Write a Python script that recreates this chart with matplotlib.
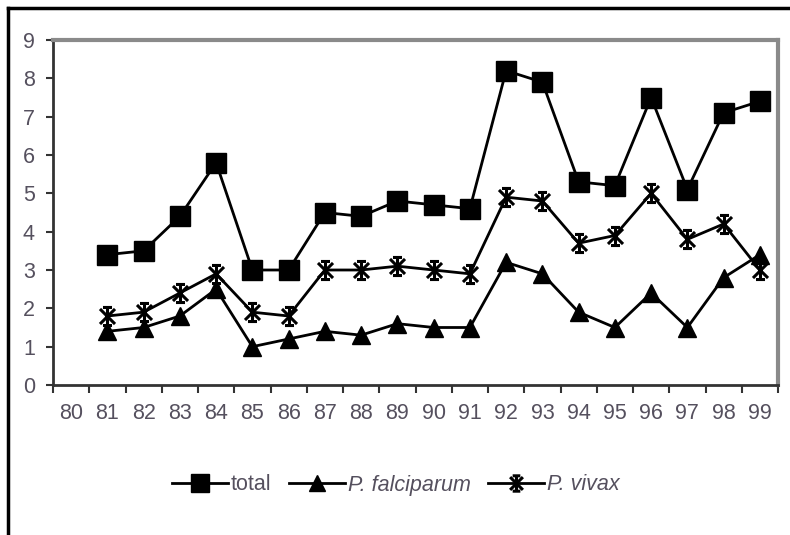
import matplotlib
matplotlib.use("Agg")
import matplotlib.pyplot as plt
from matplotlib.path import Path
from matplotlib.lines import Line2D
import numpy as np

years = ["80", "81", "82", "83", "84", "85", "86", "87", "88", "89",
         "90", "91", "92", "93", "94", "95", "96", "97", "98", "99"]
total = [None, 3.4, 3.5, 4.4, 5.8, 3.0, 3.0, 4.5, 4.4, 4.8, 4.7, 4.6,
         8.2, 7.9, 5.3, 5.2, 7.5, 5.1, 7.1, 7.4]
falciparum = [None, 1.4, 1.5, 1.8, 2.5, 1.0, 1.2, 1.4, 1.3, 1.6, 1.5, 1.5,
              3.2, 2.9, 1.9, 1.5, 2.4, 1.5, 2.8, 3.4]
vivax = [None, 1.8, 1.9, 2.4, 2.9, 1.9, 1.8, 3.0, 3.0, 3.1, 3.0, 2.9,
         4.9, 4.8, 3.7, 3.9, 5.0, 3.8, 4.2, 3.0]
labels = ["total", "P. falciparum", "P. vivax"]
yticks = list(range(0, 10))

plt.rcParams['font.family'] = ['Liberation Sans', 'DejaVu Sans']
txt_color = '#55505e'

fig = plt.figure(figsize=(7.9, 5.35), dpi=100)
ax = fig.add_axes([53/790, 1-385/535, (778-53)/790, (385-40)/535])

x = np.arange(len(years))

def arr(v):
    return np.array([np.nan if a is None else a for a in v], dtype=float)

# star marker: X plus vertical bar with small caps
star_verts = [(-1, -1), (1, 1), (-1, 1), (1, -1), (0, -1.2), (0, 1.2),
              (-0.6, 1.2), (0.6, 1.2), (-0.6, -1.2), (0.6, -1.2)]
star_codes = [Path.MOVETO, Path.LINETO] * 5
star = Path(star_verts, star_codes)

l1, = ax.plot(x, arr(total), color='black', lw=2, marker='s', markersize=15,
              markerfacecolor='black', markeredgecolor='black', zorder=3, label=labels[0])
l3, = ax.plot(x, arr(vivax), color='black', lw=2, marker=star, markersize=13,
              markeredgewidth=2.2, markerfacecolor='none', markeredgecolor='black', zorder=3, label=labels[2])
l2, = ax.plot(x, arr(falciparum), color='black', lw=2, marker='^', markersize=13,
              markerfacecolor='black', markeredgecolor='black', zorder=4, label=labels[1])

ax.set_xlim(-0.5, len(years) - 0.5)
ax.set_ylim(0, 9)
ax.set_yticks(yticks)
ax.set_yticklabels([str(t) for t in yticks], fontsize=15.5, color=txt_color)
ax.set_xticks(np.arange(-0.5, len(years), 1.0))
ax.set_xticklabels([])
ax.set_xticks(x, minor=True)
ax.set_xticklabels(years, minor=True, fontsize=15.5, color=txt_color)
ax.tick_params(axis='x', which='major', length=6, width=1.5, color='#333333', direction='out')
ax.tick_params(axis='x', which='minor', length=0, pad=13)
ax.tick_params(axis='y', length=5, width=1.5, color='#333333', direction='out', pad=8)

for s in ['top', 'right']:
    ax.spines[s].set_color('#8a8a8a')
    ax.spines[s].set_linewidth(3)
for s in ['left', 'bottom']:
    ax.spines[s].set_color('#333333')
    ax.spines[s].set_linewidth(2)

leg = fig.legend(handles=[l1, l2, l3], labels=labels, loc='center',
                 bbox_to_anchor=(396/790, 1-485/535), ncol=3, frameon=False,
                 fontsize=15.5, handlelength=2.6, handletextpad=0.15, columnspacing=0.8,
                 markerscale=0.85)
for i, t in enumerate(leg.get_texts()):
    t.set_color(txt_color)
    if i > 0:
        t.set_fontstyle('italic')

# figure border lines (left and top)
fig.add_artist(Line2D([8/790, 8/790], [0, 1-8/535], color='black', lw=2.5,
                      transform=fig.transFigure))
fig.add_artist(Line2D([8/790, 1], [1-8/535, 1-8/535], color='black', lw=2.5,
                      transform=fig.transFigure))

fig.savefig("out.png", dpi=100)
